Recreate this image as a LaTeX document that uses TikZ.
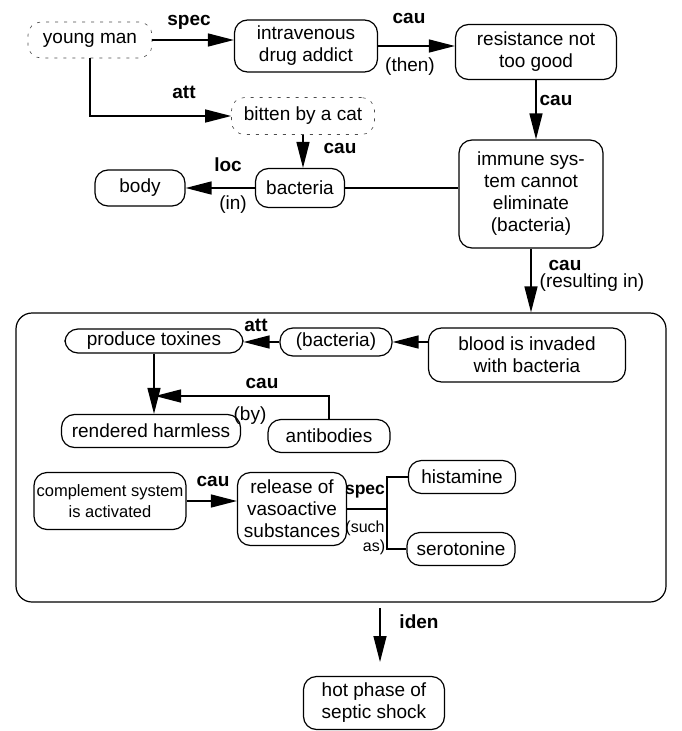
\documentclass[tikz,border=0pt]{standalone}
\usepackage{fontspec}
\setmainfont{Liberation Sans}
\usetikzlibrary{arrows.meta}
\tikzset{
  box/.style={draw, line width=1.2pt, rounded corners=13pt, align=center, inner sep=2pt,
    font=\fontsize{19}{22}\selectfont},
  dbox/.style={box, line width=0.6pt, dash pattern=on 3pt off 6pt, draw=black!70},
  arr/.style={line width=1.4pt, -{Triangle[length=26pt,width=13pt]}},
  ln/.style={line width=1.4pt},
  rel/.style={font=\fontsize{19}{20}\selectfont\bfseries},
  par/.style={font=\fontsize{19}{20}\selectfont}
}
\begin{document}
\begin{tikzpicture}[x=1pt,y=-1pt]
\useasboundingbox (0,0) rectangle (681,731);
% nodes
\node[dbox, minimum width=124pt, minimum height=36pt] (ym) at (90,40) {young man};
\node[box, minimum width=143pt, minimum height=52pt] (ida) at (306,46) {intravenous\\drug addict};
\node[box, minimum width=161pt, minimum height=55pt] (res) at (536,52) {resistance not\\too good};
\node[dbox, minimum width=143pt, minimum height=37pt] (bit) at (303,116) {bitten by a cat};
\node[box, minimum width=90pt, minimum height=36pt] (body) at (140,188) {body};
\node[box, minimum width=89pt, minimum height=39pt] (bac) at (300,188) {bacteria};
\node[box, minimum width=144pt, minimum height=108pt] (imm) at (531,194) {immune sys-\\tem cannot\\eliminate\\(bacteria)};
\node[draw, line width=1.2pt, rounded corners=16pt, minimum width=650pt, minimum height=289pt] (big) at (341,457.5) {};
\node[box, minimum width=178pt, minimum height=24pt] (pt) at (154,341) {produce toxines};
\node[box, minimum width=112pt, minimum height=28pt] (bac2) at (336,342) {(bacteria)};
\node[box, minimum width=197pt, minimum height=54pt] (blood) at (527,355) {blood is invaded\\with bacteria};
\node[box, minimum width=179pt, minimum height=33pt] (rh) at (151,431) {rendered harmless};
\node[box, minimum width=122pt, minimum height=33pt] (anti) at (329,436) {antibodies};
\node[box, minimum width=152pt, minimum height=57pt, font=\fontsize{16.5}{21}\selectfont] (comp) at (110,501) {complement system\\is activated};
\node[box, minimum width=109pt, minimum height=73pt] (relv) at (292,509) {release of\\vasoactive\\substances};
\node[box, minimum width=107pt, minimum height=33pt] (hist) at (462,477) {histamine};
\node[box, minimum width=108pt, minimum height=33pt] (sero) at (461,549) {serotonine};
\node[box, minimum width=141pt, minimum height=53pt] (hot) at (374,703) {hot phase of\\septic shock};
% connectors
\draw[arr] (ym.east) -- (ym.east -| ida.west);
\node[rel] (l1) at (189,22) {spec};
\draw[arr] (ym.south) |- (bit.west);
\node[rel] (l2) at (184,92) {att};
\draw[arr] (ida.east) -- (ida.east -| res.west);
\node[rel] (l3) at (409,18) {cau};
\node[par] (l4) at (410,67) {(then)};
\draw[arr] (res.south) -- (res.south |- imm.north);
\node[rel] (l5) at (556,100) {cau};
\draw[arr] (bit.south) -- (bit.south |- bac.north);
\node[rel] (l6) at (340,148) {cau};
\draw[arr] (bac.west) -- (body.east);
\node[rel] (l7) at (228,165) {loc};
\node[par] (l8) at (233,205) {(in)};
\draw[ln] (bac.east) -- (bac.east -| imm.west);
\draw[arr] (imm.south) -- (imm.south |- big.north);
\node[rel] (l9) at (565,265) {cau};
\node[par] (l10) at (592,283) {(resulting in)};
\draw[arr] (bac2.east -| blood.west) -- (bac2.east);
\draw[arr] (bac2.west) -- (bac2.west -| pt.east);
\node[rel] (l11) at (256,325) {att};
\draw[arr] (pt.south) -- (pt.south |- rh.north);
\coordinate (j) at (155,396);
\draw[arr] (anti.north) |- (j);
\node[rel] (l12) at (262,383) {cau};
\node[par] (l13) at (250,416) {(by)};
\draw[arr] (comp.east) -- (comp.east -| relv.west);
\node[rel] (l14) at (213,481) {cau};
\draw[ln] (relv.east) -- ++(40,0) coordinate (f);
\draw[ln] (hist.west) -| (f) |- (sero.west);
\node[rel, font=\fontsize{17.5}{20}\selectfont\bfseries] (l15) at (365,492) {spec};
\node[par, font=\fontsize{16}{18}\selectfont] (l16) at (365,528) {(such};
\node[par, font=\fontsize{16}{18}\selectfont] (l17) at (374,547) {as)};
\coordinate (io) at (380,608);
\coordinate (ie) at (380,662);
\draw[arr] (io) -- (ie);
\node[rel] (l18) at (419,622) {iden};
\end{tikzpicture}
\end{document}
